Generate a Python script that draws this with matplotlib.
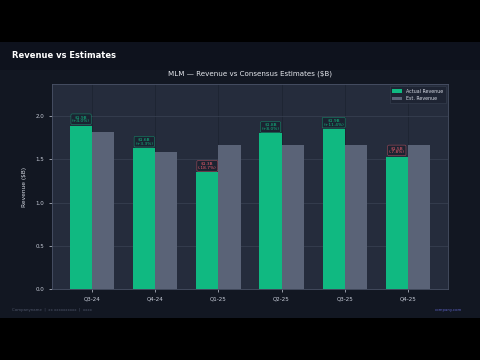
import matplotlib
matplotlib.use("Agg")
import matplotlib.pyplot as plt
import numpy as np
from matplotlib.patches import Rectangle

quarters = ["Q3-24", "Q4-24", "Q1-25", "Q2-25", "Q3-25", "Q4-25"]
actual = [1.89, 1.63, 1.35, 1.80, 1.85, 1.53]
estimate = [1.82, 1.58, 1.66, 1.66, 1.66, 1.66]
labels = ["$1.9B\n(+4.0%)", "$1.6B\n(+3.3%)", "$1.3B\n(-18.7%)",
          "$1.8B\n(+8.0%)", "$1.9B\n(+11.4%)", "$1.5B\n(-7.8%)"]

GREEN = "#10b981"
GREY = "#5a6377"
RED = "#f05d6c"

fig = plt.figure(figsize=(4.8, 3.6), dpi=100)
fig.patch.set_facecolor("#000000")

# page bands: header and chart area, black letterbox above and below
fig.patches.append(Rectangle((0, 290 / 360), 1, 28 / 360, transform=fig.transFigure,
                             facecolor="#0e121d", zorder=-2))
fig.patches.append(Rectangle((0, 42 / 360), 1, 248 / 360, transform=fig.transFigure,
                             facecolor="#121722", zorder=-2))
fig.text(12 / 480, 1 - 55 / 360, "Revenue vs Estimates", color="white",
         fontsize=6, fontweight="bold", va="center")
fig.text(12 / 480, 1 - 310 / 360, "Companyname  |  xx xxxxxxxxxx  |  xxxx", color="#4f566a",
         fontsize=2.8, va="center")
fig.text(462 / 480, 1 - 310 / 360, "company.com", color="#5a5fc0",
         fontsize=2.8, va="center", ha="right")

ax = fig.add_axes([52 / 480, 71 / 360, 396 / 480, 205 / 360])
ax.set_zorder(2)
ax.set_facecolor("#252c3c")

x = np.arange(len(quarters))
w = 0.35
ax.bar(x, actual, w, color=GREEN, label="Actual Revenue", zorder=3)
ax.bar(x + w, estimate, w, color=GREY, label="Est. Revenue", zorder=3)

for i in range(len(quarters)):
    c = GREEN if "+" in labels[i] else RED
    ax.text(x[i], actual[i] + 0.025, labels[i], ha="center", va="bottom",
            fontsize=3.2, color=c, linespacing=1.1, zorder=4,
            bbox=dict(boxstyle="round,pad=0.25", facecolor="#1a2230", edgecolor=c,
                      linewidth=0.3, alpha=0.85))

ax.set_xticks(x + w / 2)
ax.set_xticklabels(quarters)
ax.set_ylim(0, 2.37)
ax.set_yticks([0.0, 0.5, 1.0, 1.5, 2.0])
ax.tick_params(colors="#c9ceda", labelsize=4, length=2, width=0.5)
ax.set_ylabel("Revenue ($B)", color="#d5d9e3", fontsize=4.2, labelpad=6)
ax.set_title("MLM \u2014 Revenue vs Consensus Estimates ($B)", color="#e6e9ef",
             fontsize=5.1, pad=6)
ax.grid(axis="y", color="#3a4254", linewidth=0.5, zorder=0)
ax.grid(axis="x", color="#1c2230", linewidth=0.5, zorder=0)
for s in ax.spines.values():
    s.set_color("#4a5266")
    s.set_linewidth(0.6)

leg = ax.legend(loc="upper right", fontsize=3.4, facecolor="#1e2433",
                edgecolor="#3a4254", labelcolor="#d5d9e3", framealpha=0.9,
                handlelength=2.2, borderpad=0.5)
leg.get_frame().set_linewidth(0.4)

fig.savefig("out.png", dpi=100, facecolor=fig.get_facecolor())
